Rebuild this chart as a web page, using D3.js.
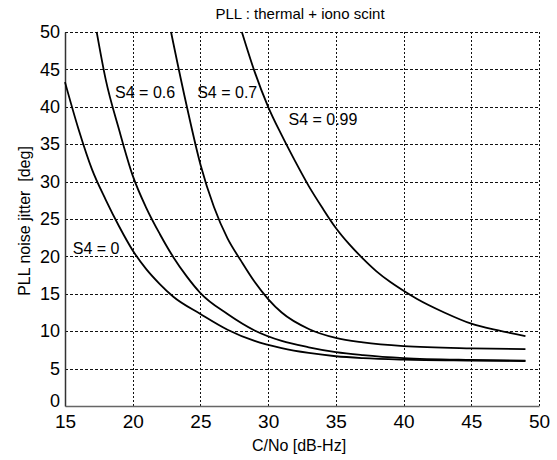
<!DOCTYPE html>
<html>
<head>
<meta charset="utf-8">
<script src="https://cdn.jsdelivr.net/npm/d3@7"></script>
<style>
  body { margin: 0; background: #fff; }
  text { font-family: "Liberation Sans", Arial, sans-serif; fill: #000; }
</style>
</head>
<body>
<script>
// values
var xTicks = [15, 20, 25, 30, 35, 40, 45, 50];
var yTicks = [0, 5, 10, 15, 20, 25, 30, 35, 40, 45, 50];

var s4_0_x = [15, 16, 17, 18, 19, 20, 21, 22, 23, 25, 27, 29, 31, 33, 35, 37, 40, 45, 49];
var s4_0_y = [43.3, 37.0, 31.6, 27.6, 24.0, 20.8, 18.3, 16.3, 14.6, 12.3, 10.2, 8.7, 7.75, 7.1, 6.65, 6.4, 6.2, 6.07, 6.0];

var s4_06_x = [17.34, 18, 19, 20, 21, 22, 23, 24, 25, 27, 29, 31, 33, 35, 37, 40, 45, 49];
var s4_06_y = [50, 43.7, 36.9, 30.8, 26.5, 23.0, 19.9, 17.3, 15.1, 12.3, 10.1, 8.7, 7.85, 7.2, 6.8, 6.4, 6.15, 6.06];

var s4_07_x = [22.83, 23, 24, 25, 26, 27, 28, 29, 30, 31, 33, 35, 37, 40, 45, 49];
var s4_07_y = [50, 48.5, 40.0, 32.3, 26.6, 22.4, 19.4, 16.6, 14.3, 12.5, 10.3, 9.1, 8.5, 8.0, 7.7, 7.6];

var s4_099_x = [28.06, 29, 30, 31, 32, 33, 34, 35, 36, 37, 38, 39, 40, 41, 43, 45, 47, 49];
var s4_099_y = [50, 44.7, 40.0, 36.2, 32.7, 29.4, 26.5, 23.8, 21.6, 19.7, 18.0, 16.6, 15.4, 14.3, 12.5, 11.0, 10.1, 9.35];

var labelText = ["S4 = 0", "S4 = 0.6", "S4 = 0.7", "S4 = 0.99"];
var labelX = [15.57, 18.7, 24.76, 31.5];
var labelY = [20.3, 41.2, 41.2, 37.6];

var margin = {top: 32, right: 18, bottom: 54, left: 65},
  width = 557 - margin.left - margin.right,
  height = 460 - margin.top - margin.bottom;

var svg = d3.select("body").append("svg")
  .attr("width", 557)
  .attr("height", 460)
  .append("g")
  .attr("transform", "translate(" + margin.left + "," + margin.top + ")");

var x = d3.scaleLinear().domain([15, 50]).range([0, width]);
var y = d3.scaleLinear().domain([0, 50]).range([height, 0]);

// dotted grid
svg.selectAll("line.gx")
  .data(xTicks.slice(1))
  .enter().append("line")
  .attr("class", "gx")
  .attr("x1", function(d) { return Math.round(x(d)) + 0.5; })
  .attr("x2", function(d) { return Math.round(x(d)) + 0.5; })
  .attr("y1", 0)
  .attr("y2", height)
  .attr("stroke", "#111")
  .attr("stroke-width", 1)
  .attr("stroke-dasharray", "2,2");

svg.selectAll("line.gy")
  .data(yTicks.slice(1))
  .enter().append("line")
  .attr("class", "gy")
  .attr("x1", 0)
  .attr("x2", width)
  .attr("y1", function(d) { return Math.round(y(d)) + 0.5; })
  .attr("y2", function(d) { return Math.round(y(d)) + 0.5; })
  .attr("stroke", "#111")
  .attr("stroke-width", 1)
  .attr("stroke-dasharray", "3,2");

// axes, no tick marks
var xAxis = svg.append("g")
  .attr("transform", "translate(0," + height + ")")
  .call(d3.axisBottom(x).tickValues(xTicks).tickSize(0).tickPadding(9));
xAxis.select(".domain").attr("stroke", "#666").attr("stroke-width", 1.5);
xAxis.selectAll("text")
  .style("font-family", "Liberation Sans, Arial, sans-serif")
  .style("font-size", "19px")
  .attr("fill", "#000");

var yAxis = svg.append("g")
  .call(d3.axisLeft(y).tickValues(yTicks).tickSize(0).tickPadding(5));
yAxis.select(".domain").attr("stroke", "#333").attr("stroke-width", 1.5);
yAxis.selectAll("text")
  .style("font-family", "Liberation Sans, Arial, sans-serif")
  .style("font-size", "18px")
  .attr("fill", "#000")
  .attr("dy", function(d) { return d === 0 ? "0.05em" : "0.32em"; });

// curves
var series = [
  [s4_0_x, s4_0_y],
  [s4_06_x, s4_06_y],
  [s4_07_x, s4_07_y],
  [s4_099_x, s4_099_y]
];

var line = d3.line()
  .x(function(d) { return x(d[0]); })
  .y(function(d) { return y(d[1]); })
  .curve(d3.curveMonotoneX);

svg.selectAll("path.curve")
  .data(series)
  .enter().append("path")
  .attr("class", "curve")
  .attr("fill", "none")
  .attr("stroke", "#000")
  .attr("stroke-width", 1.8)
  .attr("d", function(s) {
    return line(d3.zip(s[0], s[1]));
  });

// curve labels
svg.selectAll("text.lab")
  .data(labelText)
  .enter().append("text")
  .attr("class", "lab")
  .attr("x", function(d, i) { return x(labelX[i]); })
  .attr("y", function(d, i) { return y(labelY[i]); })
  .style("font-size", "16px")
  .text(function(d) { return d; });

// titles
svg.append("text")
  .attr("x", width / 2 - 2)
  .attr("y", -13)
  .attr("text-anchor", "middle")
  .style("font-size", "15px")
  .text("PLL : thermal + iono scint");

svg.append("text")
  .attr("x", width / 2 - 3)
  .attr("y", height + 45)
  .attr("text-anchor", "middle")
  .style("font-size", "16px")
  .text("C/No [dB-Hz]");

svg.append("text")
  .attr("transform", "translate(" + (-35) + "," + (y(25) + 2) + ") rotate(-90)")
  .attr("text-anchor", "middle")
  .style("font-size", "16px")
  .style("white-space", "pre")
  .text("PLL noise jitter  [deg]");
</script>
</body>
</html>
